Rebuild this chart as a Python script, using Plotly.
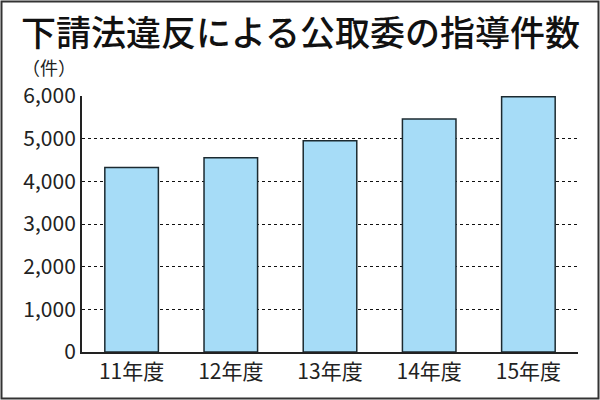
import plotly.graph_objects as go

categories = ["11年度", "12年度", "13年度", "14年度", "15年度"]
values = [4326, 4550, 4949, 5461, 5980]
tick_vals = [0, 1000, 2000, 3000, 4000, 5000, 6000]
tick_text = ["0", "1,000", "2,000", "3,000", "4,000", "5,000", "6,000"]

W, H = 600, 400
ml, mr, mt, mb = 82, 22, 96, 48
pw, ph = W - ml - mr, H - mt - mb

font = "Noto Sans CJK JP"

fig = go.Figure(go.Bar(
    x=categories, y=values, width=0.54,
    marker=dict(color="#A6DCF7", line=dict(color="#1c2a30", width=1.5)),
))

fig.update_layout(
    width=W, height=H,
    margin=dict(l=ml, r=mr, t=mt, b=mb),
    paper_bgcolor="white", plot_bgcolor="white",
    showlegend=False,
    font=dict(family=font, color="#222"),
    xaxis=dict(range=[-0.5, 4.5], showline=True, linecolor="#222", linewidth=2,
               ticks="", tickfont=dict(size=21, family=font, color="#222"), showgrid=False),
    yaxis=dict(range=[0, 6000], tickvals=tick_vals, ticktext=tick_text,
               showline=True, linecolor="#222", linewidth=2, ticks="",
               tickfont=dict(size=21, family=font, color="#222"),
               showgrid=True, gridcolor="#111", gridwidth=1.2, griddash="3px,3px",
               zeroline=False),
    annotations=[
        dict(text="下請法違反による公取委の指導件数", xref="paper", yref="paper",
             x=(300 - ml) / pw, y=1 + (mt - 30) / ph, xanchor="center", yanchor="middle",
             showarrow=False, font=dict(size=35, family=font, color="#111", weight=500)),
        dict(text="（件）", xref="paper", yref="paper",
             x=-(ml - 20) / pw, y=1 + (mt - 67) / ph, xanchor="left", yanchor="middle",
             showarrow=False, font=dict(size=18, family=font, color="#222")),
    ],
    shapes=[
        dict(type="rect", xref="paper", yref="paper",
             x0=-(ml - 1.5) / pw, x1=1 + (mr - 1.5) / pw,
             y0=-(mb - 1.5) / ph, y1=1 + (mt - 1.5) / ph,
             line=dict(color="#333", width=2)),
    ],
)

fig.write_html("out.html", config={"displayModeBar": False},
               post_script="document.body.style.margin='0';document.body.style.padding='0';")
